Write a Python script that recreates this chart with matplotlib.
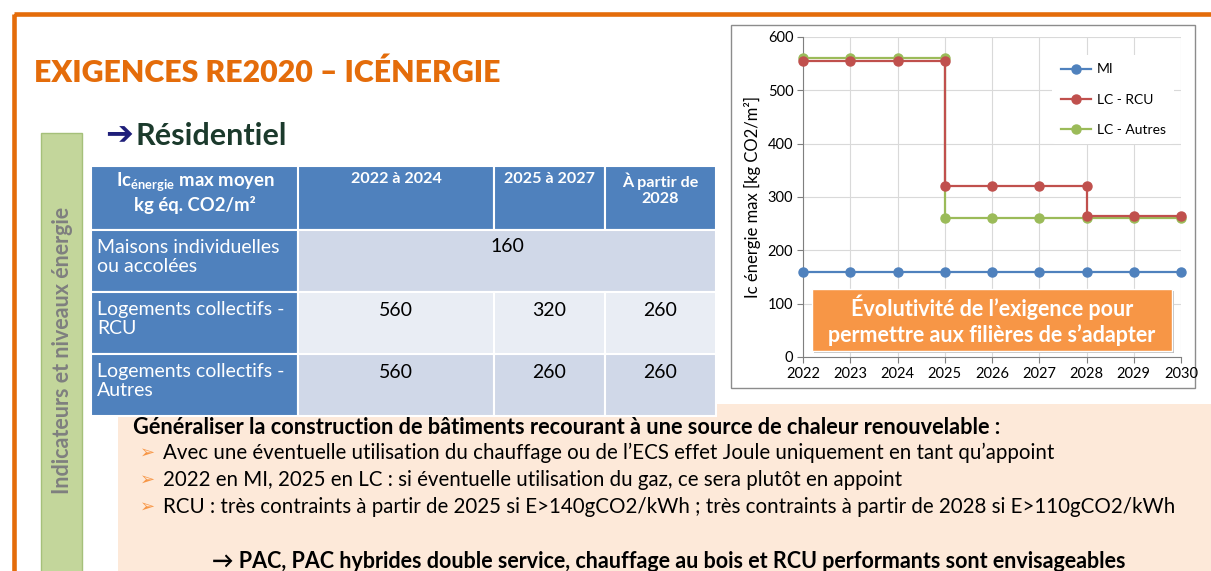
import matplotlib
matplotlib.use('Agg')
import matplotlib.pyplot as plt
from matplotlib.patches import Rectangle

plt.rcParams['font.family'] = ['Lato', 'DejaVu Sans']
plt.rcParams['mathtext.fontset'] = 'custom'
plt.rcParams['mathtext.sf'] = 'Lato:bold'

# --- chart data ---
years = [2022, 2023, 2024, 2025, 2026, 2027, 2028, 2029, 2030]
mi_vals = [160, 160, 160, 160, 160, 160, 160, 160, 160]
rcu_years = [2022, 2023, 2024, 2025, 2025, 2026, 2027, 2028, 2028, 2029, 2030]
rcu_vals = [555, 555, 555, 555, 320, 320, 320, 320, 265, 265, 265]
autres_years = [2022, 2023, 2024, 2025, 2025, 2026, 2027, 2028, 2029, 2030]
autres_vals = [560, 560, 560, 560, 260, 260, 260, 260, 260, 260]
yticks = [0, 100, 200, 300, 400, 500, 600]

# --- table data ---
col_headers = ['2022 à 2024', '2025 à 2027', 'À partir de\n2028']
row_labels = ['Maisons individuelles\nou accolées',
              'Logements collectifs -\nRCU',
              'Logements collectifs -\nAutres']
row_values = [['160'], ['560', '320', '260'], ['560', '260', '260']]

bullets = [
    'Avec une éventuelle utilisation du chauffage ou de l’ECS effet Joule uniquement en tant qu’appoint',
    '2022 en MI, 2025 en LC : si éventuelle utilisation du gaz, ce sera plutôt en appoint',
    'RCU : très contraints à partir de 2025 si E>140gCO2/kWh ; très contraints à partir de 2028 si E>110gCO2/kWh',
]

W, H = 1211, 571
fig = plt.figure(figsize=(W / 100, H / 100), dpi=100)
bg = fig.add_axes([0, 0, 1, 1])
bg.set_xlim(0, W)
bg.set_ylim(H, 0)
bg.axis('off')

orange = '#E46C0A'
blue = '#4F81BD'

# slide frame
bg.add_patch(Rectangle((13.5, 14), 1400, 700, fill=False, ec=orange, lw=3.3, joinstyle='round'))
bg.text(34, 73, 'EXIGENCES RE2020 – ICÉNERGIE', color=orange, fontsize=21.8,
        fontweight='heavy', va='center', ha='left')

# green side bar
bg.add_patch(Rectangle((41, 133), 41, 460, fc='#C3D69B', ec='#A5C07A', lw=1))
bg.text(63, 350, 'Indicateurs et niveaux énergie', rotation=90, color='#7F7F7F',
        fontsize=15.5, fontweight='bold', ha='center', va='center')

# heading
bg.text(105, 135, '➔', family=['DejaVu Sans'], color='#1F1F7A', fontsize=24,
        va='center', ha='left', fontweight='bold')
bg.text(136, 136, 'Résidentiel', color='#1B3A2C', fontsize=22, fontweight='bold',
        va='center', ha='left')

# peach box
bg.add_patch(Rectangle((118, 404), 1100, 200, fc='#FDE9D9', ec='none'))
bg.text(133, 427, 'Généraliser la construction de bâtiments recourant à une source de chaleur renouvelable :',
        fontsize=15.7, fontweight='bold', va='center', ha='left', color='black')
for i, b in enumerate(bullets):
    y = 453 + i * 27
    bg.text(140, y, '➢', family=['DejaVu Sans'], color='#F79646', fontsize=13, va='center', ha='left')
    bg.text(163, y, b, fontsize=14.8, va='center', ha='left', color='black')
bg.text(212, 561, '→ PAC, PAC hybrides double service, chauffage au bois et RCU performants sont envisageables',
        fontsize=15.5, fontweight='bold', va='center', ha='left', color='black')

# table
xs = [91, 298, 494, 605, 716]
ys = [166, 230, 292, 354, 416]
data_colors = ['#D0D8E8', '#E9EDF4', '#D0D8E8']
bg.add_patch(Rectangle((xs[0], ys[0]), xs[-1] - xs[0], ys[1] - ys[0], fc=blue, ec='white', lw=1.5))
for j in range(1, 4):
    bg.add_patch(Rectangle((xs[j], ys[0]), xs[j + 1] - xs[j], ys[1] - ys[0], fc=blue, ec='white', lw=1.5))
    bg.text((xs[j] + xs[j + 1]) / 2, 172, col_headers[j - 1], color='white', fontsize=11.6,
            fontweight='bold', ha='center', va='top', linespacing=1.2)
bg.text(195, 182, r'Ic$_{\mathsf{énergie}}$ max moyen', color='white', fontsize=13.3,
        fontweight='bold', ha='center', va='center')
bg.text(195, 205, 'kg éq. CO2/m²', color='white', fontsize=13.3,
        fontweight='bold', ha='center', va='center')

for i, lab in enumerate(row_labels):
    y0, y1 = ys[i + 1], ys[i + 2]
    bg.add_patch(Rectangle((xs[0], y0), xs[1] - xs[0], y1 - y0, fc=blue, ec='white', lw=1.5))
    bg.text(97, y0 + 27, lab, color='white', fontsize=14, ha='left', va='center', linespacing=1.1)
    vals = row_values[i]
    if len(vals) == 1:
        bg.add_patch(Rectangle((xs[1], y0), xs[4] - xs[1], y1 - y0, fc=data_colors[i], ec='white', lw=1.5))
        bg.text((xs[1] + xs[4]) / 2, y0 + 17, vals[0], fontsize=14, ha='center', va='center')
    else:
        for j, v in enumerate(vals):
            bg.add_patch(Rectangle((xs[j + 1], y0), xs[j + 2] - xs[j + 1], y1 - y0,
                                   fc=data_colors[i], ec='white', lw=1.5))
            bg.text((xs[j + 1] + xs[j + 2]) / 2, y0 + 18, v, fontsize=14, ha='center', va='center')

# chart frame
bg.add_patch(Rectangle((731, 25), 464, 363, fc='white', ec='#8C8C8C', lw=1))

ax = fig.add_axes([803 / W, 1 - 357 / H, 378 / W, 320 / H])
ax.set_xlim(2022, 2030)
ax.set_ylim(0, 600)
ax.set_xticks(years)
ax.set_yticks(yticks)
ax.grid(True, color='#D9D9D9', lw=0.8)
ax.set_axisbelow(True)
for s in ['top', 'right']:
    ax.spines[s].set_visible(False)
for s in ['left', 'bottom']:
    ax.spines[s].set_color('#7F7F7F')
ax.tick_params(direction='out', length=4, color='#7F7F7F', labelsize=10.5, pad=3)
ax.set_ylabel('Ic énergie max [kg CO2/m²]', fontsize=12, labelpad=5)

ms = 6.5
ax.plot(years, mi_vals, '-o', color=blue, lw=1.6, ms=ms, label='MI', clip_on=False, zorder=3)
ax.plot(autres_years, autres_vals, '-o', color='#9BBB59', lw=1.6, ms=ms, clip_on=False, zorder=3)
ax.plot(rcu_years, rcu_vals, '-o', color='#C0504D', lw=1.6, ms=ms, label='LC - RCU', clip_on=False, zorder=4)
h, l = ax.get_legend_handles_labels()
h.append(ax.lines[1])
l.append('LC - Autres')
ax.legend(h, l, loc='upper right', bbox_to_anchor=(1.0, 0.965), fontsize=10,
          frameon=True, facecolor='white', edgecolor='none', framealpha=1,
          labelspacing=1.3, handlelength=2.2, handletextpad=0.4, borderpad=0.6)

# annotation box
ax.add_patch(Rectangle((2022.24, 8), 7.62, 116.5, fc='#BFBFBF', ec='none', zorder=5))
ax.add_patch(Rectangle((2022.19, 11), 7.62, 116.5, fc='#F79646', ec='white', lw=1, zorder=6))
ax.text(2026, 94, 'Évolutivité de l’exigence pour', color='white', fontsize=15.5,
        fontweight='bold', ha='center', va='center', zorder=7)
ax.text(2026, 41, 'permettre aux filières de s’adapter', color='white', fontsize=15.5,
        fontweight='bold', ha='center', va='center', zorder=7)

fig.savefig('out.png', dpi=100)
